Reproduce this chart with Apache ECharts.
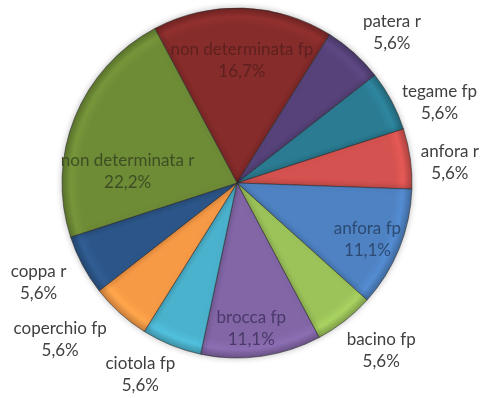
<!DOCTYPE html>
<html>
<head>
<meta charset="utf-8">
<script src="https://cdn.jsdelivr.net/npm/echarts@6/dist/echarts.min.js"></script>
<style>
html,body{margin:0;padding:0;background:#fff;}
#main{width:483px;height:398px;}
</style>
</head>
<body>
<div id="main"></div>
<script>
// Data (clockwise, starting with the slice at the upper-left of 12 o'clock)
const categories = ['non determinata fp','patera r','tegame fp','anfora r','anfora fp','bacino fp','brocca fp','ciotola fp','coperchio fp','coppa r','non determinata r'];
const values = [3,1,1,1,2,1,2,1,1,1,4];
const percentLabels = ['16,7%','5,6%','5,6%','5,6%','11,1%','5,6%','11,1%','5,6%','5,6%','5,6%','22,2%'];
const insideLabel = [true,false,false,false,true,false,true,false,false,false,true];

// Styling
const colors = ['#862c2b','#57437a','#2b7c93','#d4524f','#4e82c2','#9cc35a','#8266a6','#4bb2cd','#f79a46','#2c5689','#6e8b36'];
const insideTextColors = ['#5e2120','','','','#2c4a72','','#4a3a6a','','','','#3e4e24'];
// label nudges [dx, dy] in px
const nudges = [[0,16],[9,12],[10,22],[-3,10],[2,5],[10,-4],[-5,8],[-15,-11],[-31,-5],[-6,-3],[19,40]];

const FONT = 'Lato';
const CX = 237, CY = 183, R = 175;

function shade(hex, f){
  const n = parseInt(hex.slice(1),16);
  let r=(n>>16)&255, g=(n>>8)&255, b=n&255;
  r=Math.round(r*f); g=Math.round(g*f); b=Math.round(b*f);
  return 'rgb('+Math.min(255,r)+','+Math.min(255,g)+','+Math.min(255,b)+')';
}
function fill(hex){
  return new echarts.graphic.RadialGradient(CX, CY, R, [
    {offset:0, color:hex},
    {offset:0.9, color:hex},
    {offset:0.95, color:shade(hex,1.08)},
    {offset:1, color:shade(hex,0.82)}
  ], true);
}

function labelFor(i, color){
  const dx = nudges[i][0], dy = nudges[i][1];
  const pad = [0, dx < 0 ? -2*dx : 0, 0, dx > 0 ? 2*dx : 0];
  return {
    show:true, color:color, padding:pad,
    formatter:(p)=>{
      const main = p.name + '\n' + percentLabels[p.dataIndex];
      if (dy > 0) return '{t|}\n' + main;
      if (dy < 0) return main + '\n{b|}';
      return main;
    },
    rich:{
      t:{lineHeight:2*Math.abs(dy), fontSize:1, height:2*Math.abs(dy)},
      b:{lineHeight:2*Math.abs(dy), fontSize:1, height:2*Math.abs(dy)}
    }
  };
}

const baseData = categories.map((c,i)=>({
  name:c, value:values[i], itemStyle:{color:fill(colors[i])}
}));
const insideData = categories.map((c,i)=>({
  name:c, value:values[i],
  label: insideLabel[i] ? labelFor(i, insideTextColors[i]) : {show:false}
}));
const outsideData = categories.map((c,i)=>({
  name:c, value:values[i],
  label: !insideLabel[i] ? labelFor(i, '#404040') : {show:false}
}));

const labelBase = {position:'inside', fontFamily:FONT, fontSize:17, lineHeight:22, align:'center'};

const chart = echarts.init(document.getElementById('main'), null, {renderer:'canvas'});
chart.setOption({
  backgroundColor:'#ffffff',
  animation:false,
  series:[
    {
      type:'pie', center:[CX,CY], radius:[0,R], startAngle:118, clockwise:true,
      silent:true, label:{show:false}, labelLine:{show:false},
      itemStyle:{borderColor:'rgba(40,40,40,0.55)', borderWidth:1, shadowBlur:6, shadowColor:'rgba(0,0,0,0.25)'},
      data:baseData
    },
    {
      type:'pie', center:[CX,CY], radius:[96,R], startAngle:118, clockwise:true,
      silent:true, labelLine:{show:false}, avoidLabelOverlap:false,
      labelLayout:{hideOverlap:false},
      itemStyle:{color:'rgba(0,0,0,0)', borderWidth:0},
      label:labelBase,
      data:insideData
    },
    {
      type:'pie', center:[CX,CY], radius:[178,252], startAngle:118, clockwise:true,
      silent:true, labelLine:{show:false}, avoidLabelOverlap:false,
      labelLayout:{hideOverlap:false},
      itemStyle:{color:'rgba(0,0,0,0)', borderWidth:0},
      label:labelBase,
      data:outsideData
    }
  ]
});
</script>
</body>
</html>
